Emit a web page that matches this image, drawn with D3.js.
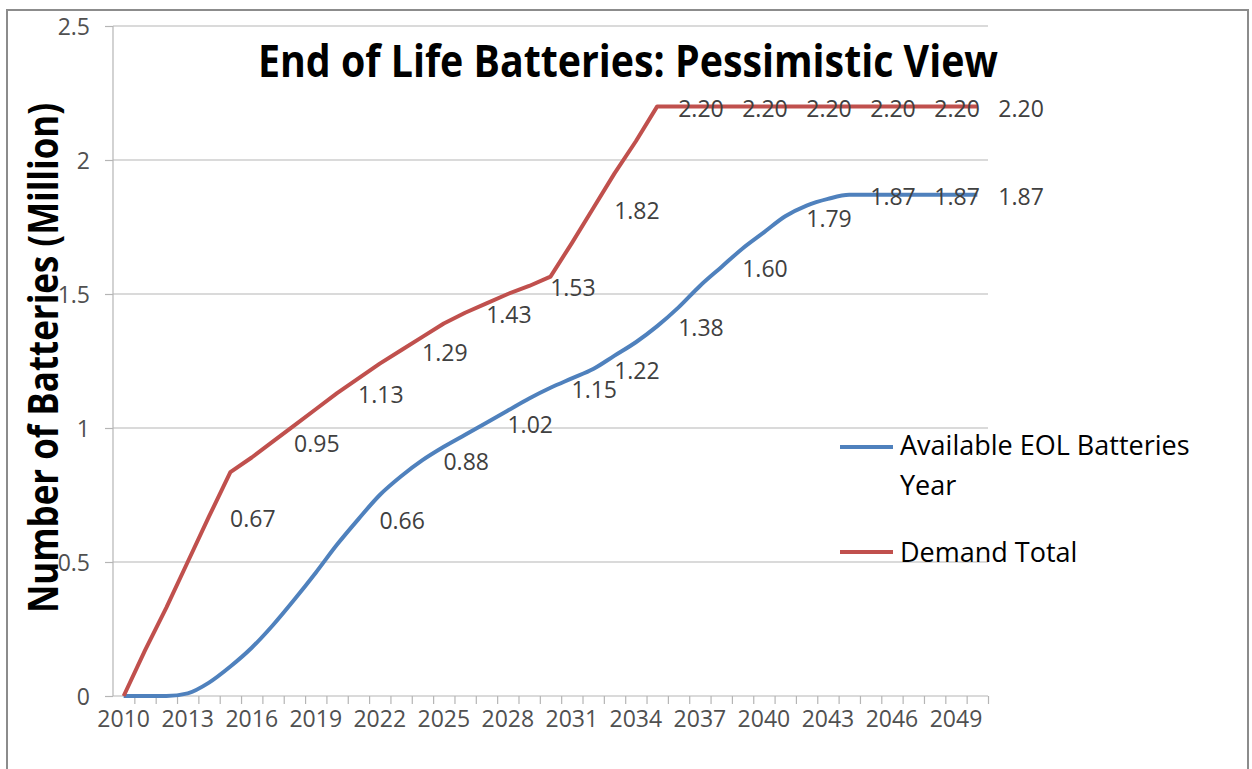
<!DOCTYPE html>
<html>
<head>
<meta charset="utf-8">
<script src="https://cdn.jsdelivr.net/npm/d3@7/dist/d3.min.js"></script>
<style>
  html, body { margin: 0; padding: 0; background: #fff; }
  svg { display: block; }
  text { font-family: "Open Sans", "Liberation Sans", sans-serif; }
</style>
</head>
<body>
<svg id="chart" width="1252" height="769"></svg>
<script>
// ---- data ----
const years = d3.range(2010, 2051);
const tickYears = [2010, 2013, 2016, 2019, 2022, 2025, 2028, 2031, 2034, 2037, 2040, 2043, 2046, 2049];
const yTicks = [0, 0.5, 1, 1.5, 2, 2.5];
const availableEOL = [
  0, 0, 0, 0.01, 0.05, 0.11, 0.18, 0.265, 0.36, 0.46,
  0.565, 0.66, 0.75, 0.82, 0.88, 0.93, 0.975, 1.02, 1.065, 1.11,
  1.15, 1.185, 1.22, 1.27, 1.32, 1.38, 1.45, 1.53, 1.60, 1.67,
  1.73, 1.79, 1.83, 1.855, 1.87, 1.87, 1.87, 1.87, 1.87, 1.87, 1.87
];
const demandTotal = [
  0, 0.17, 0.33, 0.50, 0.67, 0.835, 0.89, 0.95, 1.01, 1.07,
  1.13, 1.185, 1.24, 1.29, 1.34, 1.39, 1.43, 1.465, 1.50, 1.53,
  1.565, 1.69, 1.82, 1.95, 2.07, 2.20, 2.20, 2.20, 2.20, 2.20,
  2.20, 2.20, 2.20, 2.20, 2.20, 2.20, 2.20, 2.20, 2.20, 2.20, 2.20
];
const eolLabelYears = [2021, 2024, 2027, 2030, 2032, 2035, 2038, 2041, 2044, 2047, 2050];
const demandLabelYears = [2014, 2017, 2020, 2023, 2026, 2029, 2032, 2035, 2038, 2041, 2044, 2047, 2050];
const seriesNames = ["Available EOL Batteries", "Year", "Demand Total"];
const titleText = "End of Life Batteries: Pessimistic View";
const yTitleText = "Number of Batteries (Million)";

(function () {
// ---- layout ----
const svg = d3.select("#chart");
const pL = 113, pR = 988, pT = 26, pB = 696;
const blue = "#4F81BD", red = "#C0504D", grid = "#b5b5b5", txt = "#404040";

svg.append("rect").attr("x", 7).attr("y", 10).attr("width", 1241).attr("height", 780)
  .attr("fill", "#fff").attr("stroke", "#8c8c8c").attr("stroke-width", 2);

const x = d3.scaleBand().domain(years).range([pL, pR]);
const xb = d3.scaleLinear().domain([0, years.length]).range([pL, pR]);
const y = d3.scaleLinear().domain([0, 2.5]).range([pB, pT]);
const cx = yr => x(yr) + x.bandwidth() / 2;

// gridlines
svg.append("g").selectAll("line").data(yTicks.filter(d => d > 0)).join("line")
  .attr("x1", pL).attr("x2", pR).attr("y1", d => y(d)).attr("y2", d => y(d))
  .attr("stroke", grid).attr("stroke-width", 1.2);

// y axis
const yAxis = svg.append("g").attr("transform", `translate(${pL},0)`)
  .call(d3.axisLeft(y).tickValues(yTicks).tickSize(8).tickPadding(15).tickFormat(d => String(d)));
yAxis.selectAll("line, path").attr("stroke", grid).attr("stroke-width", 1.2);
yAxis.select(".domain").attr("d", `M0,${pT}V${pB}`);
yAxis.selectAll("text").attr("fill", "#505050").style("font-size", "23px").attr("dy", "0.36em");

// x axis ticks at band boundaries
const xAxisT = svg.append("g").attr("transform", `translate(0,${pB})`)
  .call(d3.axisBottom(xb).tickValues(d3.range(1, years.length + 1)).tickSize(8).tickFormat(""));
xAxisT.selectAll("line, path").attr("stroke", grid).attr("stroke-width", 1.2);
xAxisT.select(".domain").attr("d", `M${pL},0H${pR}`);

// x labels
const xAxisL = svg.append("g").attr("transform", `translate(0,${pB})`)
  .call(d3.axisBottom(x).tickValues(tickYears).tickSize(0).tickPadding(15));
xAxisL.select(".domain").remove();
xAxisL.selectAll("text").attr("fill", "#505050").style("font-size", "23px");

// lines
const lineSmooth = d3.line().x((d, i) => cx(years[i])).y(d => y(d)).curve(d3.curveMonotoneX);
const lineStraight = d3.line().x((d, i) => cx(years[i])).y(d => y(d));
svg.append("path").datum(availableEOL).attr("d", lineSmooth)
  .attr("fill", "none").attr("stroke", blue).attr("stroke-width", 4).attr("stroke-linejoin", "round");
svg.append("path").datum(demandTotal).attr("d", lineStraight)
  .attr("fill", "none").attr("stroke", red).attr("stroke-width", 4).attr("stroke-linejoin", "round");

// data labels
function labels(ylist, values) {
  svg.append("g").selectAll("text").data(ylist).join("text")
    .attr("x", d => cx(d) + 21)
    .attr("y", d => y(values[years.indexOf(d)]) + 2)
    .attr("dy", "0.36em")
    .attr("fill", txt).style("font-size", "23px")
    .text(d => values[years.indexOf(d)].toFixed(2));
}
labels(demandLabelYears, demandTotal);
labels(eolLabelYears, availableEOL);

// title
svg.append("text").attr("x", 258).attr("y", 77)
  .attr("textLength", 740).attr("lengthAdjust", "spacingAndGlyphs")
  .style("font-size", "44px").style("font-weight", "bold").attr("fill", "#000")
  .text(titleText);

// y title
svg.append("text").attr("transform", "translate(58,358) rotate(-90)")
  .attr("text-anchor", "middle")
  .attr("textLength", 510).attr("lengthAdjust", "spacingAndGlyphs")
  .style("font-size", "42px").style("font-weight", "bold").attr("fill", "#000")
  .text(yTitleText);

// legend
const lg = svg.append("g");
lg.append("line").attr("x1", 840).attr("x2", 893).attr("y1", 447).attr("y2", 447)
  .attr("stroke", blue).attr("stroke-width", 4);
lg.append("text").attr("x", 900).attr("y", 455).style("font-size", "27px").attr("fill", "#000").text(seriesNames[0]);
lg.append("text").attr("x", 900).attr("y", 495).style("font-size", "27px").attr("fill", "#000").text(seriesNames[1]);
lg.append("line").attr("x1", 840).attr("x2", 893).attr("y1", 552).attr("y2", 552)
  .attr("stroke", red).attr("stroke-width", 4);
lg.append("text").attr("x", 900).attr("y", 562).style("font-size", "27px").attr("fill", "#000").text(seriesNames[2]);
})();
</script>
</body>
</html>
